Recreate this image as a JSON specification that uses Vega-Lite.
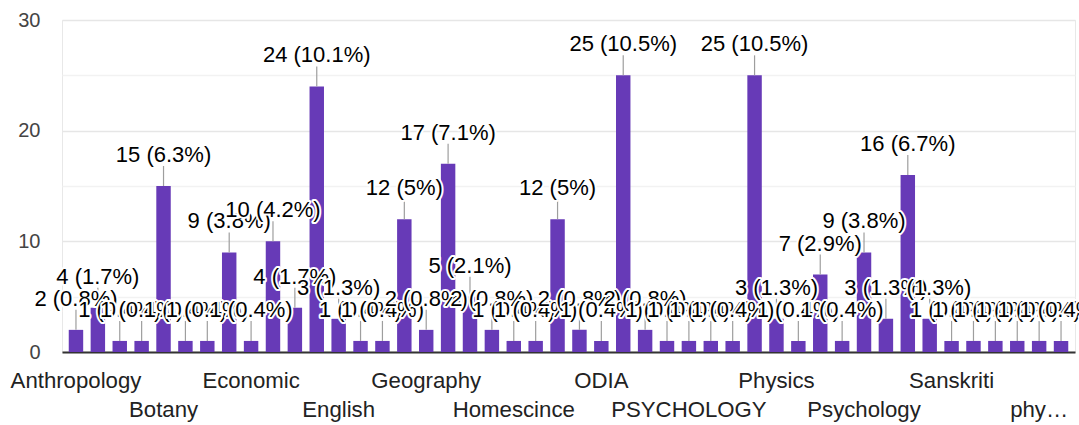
{
"$schema": "https://vega.github.io/schema/vega-lite/v6.json",
"width": 1013, "height": 332,
"autosize": {"type": "none"},
"padding": {"left": 62, "top": 20, "right": 4, "bottom": 73},
"background": "white",
"data": {"values": [
{"subject":"Anthropology","count":2,"label":"2 (0.8%)"},
{"subject":"Arts","count":4,"label":"4 (1.7%)"},
{"subject":"B.Com","count":1,"label":"1 (0.4%)"},
{"subject":"Biology","count":1,"label":"1 (0.4%)"},
{"subject":"Botany","count":15,"label":"15 (6.3%)"},
{"subject":"Chemistry","count":1,"label":"1 (0.4%)"},
{"subject":"Commerce","count":1,"label":"1 (0.4%)"},
{"subject":"Computer Science","count":9,"label":"9 (3.8%)"},
{"subject":"Economic","count":1,"label":"1 (0.4%)"},
{"subject":"Economics","count":10,"label":"10 (4.2%)"},
{"subject":"Economy","count":4,"label":"4 (1.7%)"},
{"subject":"Education","count":24,"label":"24 (10.1%)"},
{"subject":"English","count":3,"label":"3 (1.3%)"},
{"subject":"English Literature","count":1,"label":"1 (0.4%)"},
{"subject":"Environmental Science","count":1,"label":"1 (0.4%)"},
{"subject":"GEOGRAPHY","count":12,"label":"12 (5%)"},
{"subject":"Geography","count":2,"label":"2 (0.8%)"},
{"subject":"History","count":17,"label":"17 (7.1%)"},
{"subject":"Home Science","count":5,"label":"5 (2.1%)"},
{"subject":"Home science","count":2,"label":"2 (0.8%)"},
{"subject":"Homescince","count":1,"label":"1 (0.4%)"},
{"subject":"Math","count":1,"label":"1 (0.4%)"},
{"subject":"Mathematics","count":12,"label":"12 (5%)"},
{"subject":"Music","count":2,"label":"2 (0.8%)"},
{"subject":"ODIA","count":1,"label":"1 (0.4%)"},
{"subject":"Odia","count":25,"label":"25 (10.5%)"},
{"subject":"Odia Literature","count":2,"label":"2 (0.8%)"},
{"subject":"Oriya","count":1,"label":"1 (0.4%)"},
{"subject":"PSYCHOLOGY","count":1,"label":"1 (0.4%)"},
{"subject":"Philosophy","count":1,"label":"1 (0.4%)"},
{"subject":"Physical Education","count":1,"label":"1 (0.4%)"},
{"subject":"Physical Science","count":25,"label":"25 (10.5%)"},
{"subject":"Physics","count":3,"label":"3 (1.3%)"},
{"subject":"Political Science","count":1,"label":"1 (0.4%)"},
{"subject":"Political science","count":7,"label":"7 (2.9%)"},
{"subject":"Psychlogy","count":1,"label":"1 (0.4%)"},
{"subject":"Psychology","count":9,"label":"9 (3.8%)"},
{"subject":"SANSKRIT","count":3,"label":"3 (1.3%)"},
{"subject":"Sanskrit","count":16,"label":"16 (6.7%)"},
{"subject":"Sanskrit Literature","count":3,"label":"3 (1.3%)"},
{"subject":"Sanskriti","count":1,"label":"1 (0.4%)"},
{"subject":"Sociology","count":1,"label":"1 (0.4%)"},
{"subject":"Statistics","count":1,"label":"1 (0.4%)"},
{"subject":"Zoology","count":1,"label":"1 (0.4%)"},
{"subject":"physical science","count":1,"label":"1 (0.4%)"},
{"subject":"zoology","count":1,"label":"1 (0.4%)"}
]},
"encoding": {
  "x": {"field": "subject", "type": "nominal", "sort": null,
    "scale": {"type": "band", "paddingInner": 0.34, "paddingOuter": 0.308},
    "axis": {"title": null, "ticks": false, "grid": false, "domainColor": "#333333", "domainWidth": 2,
      "labelAngle": 0, "labelFont": "Liberation Sans", "labelFontSize": 22.2, "labelColor": "#222222",
      "labelPadding": 17, "labelLineHeight": 29.5, "labelOverlap": false, "labelBaseline": "top", "labelLimit": 300,
      "labelExpr": "indexof(['Anthropology','Economic','Geography','ODIA','Physics','Sanskriti'], datum.value) >= 0 ? datum.value : (indexof(['Botany','English','Homescince','PSYCHOLOGY','Psychology'], datum.value) >= 0 ? ['', datum.value] : (datum.value == 'physical science' ? ['', 'phy…'] : ''))"}},
  "y": {"field": "count", "type": "quantitative",
    "scale": {"domain": [0, 30], "nice": false},
    "axis": {"title": null, "values": [0, 5, 10, 15, 20, 25, 30], "ticks": false, "domain": false,
      "labelExpr": "datum.value % 10 == 0 ? datum.label : ''",
      "labelPadding": 22, "labelFont": "Liberation Sans", "labelFontSize": 20, "labelColor": "#444444",
      "gridColor": {"condition": {"test": "datum.value % 10 == 0", "value": "#e6e6e6"}, "value": "#f2f2f2"},
      "gridWidth": 1.5}}
},
"layer": [
  {"mark": {"type": "bar", "color": "#673ab7"}},
  {"mark": {"type": "rule", "color": "#9e9e9e", "strokeWidth": 1.2, "y2Offset": -20}, "encoding": {"y2": {"field": "count"}}},
  {"transform":[{"filter":{"field":"subject","equal":"Anthropology"}}],"encoding":{"text":{"field":"label"}},"layer":[{"mark":{"type":"text","style":"halo"}},{"mark":{"type":"text","style":"lbl"}}]},
  {"transform":[{"filter":{"field":"subject","equal":"Arts"}}],"encoding":{"text":{"field":"label"}},"layer":[{"mark":{"type":"text","style":"halo"}},{"mark":{"type":"text","style":"lbl"}}]},
  {"transform":[{"filter":{"field":"subject","equal":"B.Com"}}],"encoding":{"text":{"field":"label"}},"layer":[{"mark":{"type":"text","style":"halo"}},{"mark":{"type":"text","style":"lbl"}}]},
  {"transform":[{"filter":{"field":"subject","equal":"Biology"}}],"encoding":{"text":{"field":"label"}},"layer":[{"mark":{"type":"text","style":"halo"}},{"mark":{"type":"text","style":"lbl"}}]},
  {"transform":[{"filter":{"field":"subject","equal":"Botany"}}],"encoding":{"text":{"field":"label"}},"layer":[{"mark":{"type":"text","style":"halo"}},{"mark":{"type":"text","style":"lbl"}}]},
  {"transform":[{"filter":{"field":"subject","equal":"Chemistry"}}],"encoding":{"text":{"field":"label"}},"layer":[{"mark":{"type":"text","style":"halo"}},{"mark":{"type":"text","style":"lbl"}}]},
  {"transform":[{"filter":{"field":"subject","equal":"Commerce"}}],"encoding":{"text":{"field":"label"}},"layer":[{"mark":{"type":"text","style":"halo"}},{"mark":{"type":"text","style":"lbl"}}]},
  {"transform":[{"filter":{"field":"subject","equal":"Computer Science"}}],"encoding":{"text":{"field":"label"}},"layer":[{"mark":{"type":"text","style":"halo"}},{"mark":{"type":"text","style":"lbl"}}]},
  {"transform":[{"filter":{"field":"subject","equal":"Economic"}}],"encoding":{"text":{"field":"label"}},"layer":[{"mark":{"type":"text","style":"halo"}},{"mark":{"type":"text","style":"lbl"}}]},
  {"transform":[{"filter":{"field":"subject","equal":"Economics"}}],"encoding":{"text":{"field":"label"}},"layer":[{"mark":{"type":"text","style":"halo"}},{"mark":{"type":"text","style":"lbl"}}]},
  {"transform":[{"filter":{"field":"subject","equal":"Economy"}}],"encoding":{"text":{"field":"label"}},"layer":[{"mark":{"type":"text","style":"halo"}},{"mark":{"type":"text","style":"lbl"}}]},
  {"transform":[{"filter":{"field":"subject","equal":"Education"}}],"encoding":{"text":{"field":"label"}},"layer":[{"mark":{"type":"text","style":"halo"}},{"mark":{"type":"text","style":"lbl"}}]},
  {"transform":[{"filter":{"field":"subject","equal":"English"}}],"encoding":{"text":{"field":"label"}},"layer":[{"mark":{"type":"text","style":"halo"}},{"mark":{"type":"text","style":"lbl"}}]},
  {"transform":[{"filter":{"field":"subject","equal":"English Literature"}}],"encoding":{"text":{"field":"label"}},"layer":[{"mark":{"type":"text","style":"halo"}},{"mark":{"type":"text","style":"lbl"}}]},
  {"transform":[{"filter":{"field":"subject","equal":"Environmental Science"}}],"encoding":{"text":{"field":"label"}},"layer":[{"mark":{"type":"text","style":"halo"}},{"mark":{"type":"text","style":"lbl"}}]},
  {"transform":[{"filter":{"field":"subject","equal":"GEOGRAPHY"}}],"encoding":{"text":{"field":"label"}},"layer":[{"mark":{"type":"text","style":"halo"}},{"mark":{"type":"text","style":"lbl"}}]},
  {"transform":[{"filter":{"field":"subject","equal":"Geography"}}],"encoding":{"text":{"field":"label"}},"layer":[{"mark":{"type":"text","style":"halo"}},{"mark":{"type":"text","style":"lbl"}}]},
  {"transform":[{"filter":{"field":"subject","equal":"History"}}],"encoding":{"text":{"field":"label"}},"layer":[{"mark":{"type":"text","style":"halo"}},{"mark":{"type":"text","style":"lbl"}}]},
  {"transform":[{"filter":{"field":"subject","equal":"Home Science"}}],"encoding":{"text":{"field":"label"}},"layer":[{"mark":{"type":"text","style":"halo"}},{"mark":{"type":"text","style":"lbl"}}]},
  {"transform":[{"filter":{"field":"subject","equal":"Home science"}}],"encoding":{"text":{"field":"label"}},"layer":[{"mark":{"type":"text","style":"halo"}},{"mark":{"type":"text","style":"lbl"}}]},
  {"transform":[{"filter":{"field":"subject","equal":"Homescince"}}],"encoding":{"text":{"field":"label"}},"layer":[{"mark":{"type":"text","style":"halo"}},{"mark":{"type":"text","style":"lbl"}}]},
  {"transform":[{"filter":{"field":"subject","equal":"Math"}}],"encoding":{"text":{"field":"label"}},"layer":[{"mark":{"type":"text","style":"halo"}},{"mark":{"type":"text","style":"lbl"}}]},
  {"transform":[{"filter":{"field":"subject","equal":"Mathematics"}}],"encoding":{"text":{"field":"label"}},"layer":[{"mark":{"type":"text","style":"halo"}},{"mark":{"type":"text","style":"lbl"}}]},
  {"transform":[{"filter":{"field":"subject","equal":"Music"}}],"encoding":{"text":{"field":"label"}},"layer":[{"mark":{"type":"text","style":"halo"}},{"mark":{"type":"text","style":"lbl"}}]},
  {"transform":[{"filter":{"field":"subject","equal":"ODIA"}}],"encoding":{"text":{"field":"label"}},"layer":[{"mark":{"type":"text","style":"halo"}},{"mark":{"type":"text","style":"lbl"}}]},
  {"transform":[{"filter":{"field":"subject","equal":"Odia"}}],"encoding":{"text":{"field":"label"}},"layer":[{"mark":{"type":"text","style":"halo"}},{"mark":{"type":"text","style":"lbl"}}]},
  {"transform":[{"filter":{"field":"subject","equal":"Odia Literature"}}],"encoding":{"text":{"field":"label"}},"layer":[{"mark":{"type":"text","style":"halo"}},{"mark":{"type":"text","style":"lbl"}}]},
  {"transform":[{"filter":{"field":"subject","equal":"Oriya"}}],"encoding":{"text":{"field":"label"}},"layer":[{"mark":{"type":"text","style":"halo"}},{"mark":{"type":"text","style":"lbl"}}]},
  {"transform":[{"filter":{"field":"subject","equal":"PSYCHOLOGY"}}],"encoding":{"text":{"field":"label"}},"layer":[{"mark":{"type":"text","style":"halo"}},{"mark":{"type":"text","style":"lbl"}}]},
  {"transform":[{"filter":{"field":"subject","equal":"Philosophy"}}],"encoding":{"text":{"field":"label"}},"layer":[{"mark":{"type":"text","style":"halo"}},{"mark":{"type":"text","style":"lbl"}}]},
  {"transform":[{"filter":{"field":"subject","equal":"Physical Education"}}],"encoding":{"text":{"field":"label"}},"layer":[{"mark":{"type":"text","style":"halo"}},{"mark":{"type":"text","style":"lbl"}}]},
  {"transform":[{"filter":{"field":"subject","equal":"Physical Science"}}],"encoding":{"text":{"field":"label"}},"layer":[{"mark":{"type":"text","style":"halo"}},{"mark":{"type":"text","style":"lbl"}}]},
  {"transform":[{"filter":{"field":"subject","equal":"Physics"}}],"encoding":{"text":{"field":"label"}},"layer":[{"mark":{"type":"text","style":"halo"}},{"mark":{"type":"text","style":"lbl"}}]},
  {"transform":[{"filter":{"field":"subject","equal":"Political Science"}}],"encoding":{"text":{"field":"label"}},"layer":[{"mark":{"type":"text","style":"halo"}},{"mark":{"type":"text","style":"lbl"}}]},
  {"transform":[{"filter":{"field":"subject","equal":"Political science"}}],"encoding":{"text":{"field":"label"}},"layer":[{"mark":{"type":"text","style":"halo"}},{"mark":{"type":"text","style":"lbl"}}]},
  {"transform":[{"filter":{"field":"subject","equal":"Psychlogy"}}],"encoding":{"text":{"field":"label"}},"layer":[{"mark":{"type":"text","style":"halo"}},{"mark":{"type":"text","style":"lbl"}}]},
  {"transform":[{"filter":{"field":"subject","equal":"Psychology"}}],"encoding":{"text":{"field":"label"}},"layer":[{"mark":{"type":"text","style":"halo"}},{"mark":{"type":"text","style":"lbl"}}]},
  {"transform":[{"filter":{"field":"subject","equal":"SANSKRIT"}}],"encoding":{"text":{"field":"label"}},"layer":[{"mark":{"type":"text","style":"halo"}},{"mark":{"type":"text","style":"lbl"}}]},
  {"transform":[{"filter":{"field":"subject","equal":"Sanskrit"}}],"encoding":{"text":{"field":"label"}},"layer":[{"mark":{"type":"text","style":"halo"}},{"mark":{"type":"text","style":"lbl"}}]},
  {"transform":[{"filter":{"field":"subject","equal":"Sanskrit Literature"}}],"encoding":{"text":{"field":"label"}},"layer":[{"mark":{"type":"text","style":"halo"}},{"mark":{"type":"text","style":"lbl"}}]},
  {"transform":[{"filter":{"field":"subject","equal":"Sanskriti"}}],"encoding":{"text":{"field":"label"}},"layer":[{"mark":{"type":"text","style":"halo"}},{"mark":{"type":"text","style":"lbl"}}]},
  {"transform":[{"filter":{"field":"subject","equal":"Sociology"}}],"encoding":{"text":{"field":"label"}},"layer":[{"mark":{"type":"text","style":"halo"}},{"mark":{"type":"text","style":"lbl"}}]},
  {"transform":[{"filter":{"field":"subject","equal":"Statistics"}}],"encoding":{"text":{"field":"label"}},"layer":[{"mark":{"type":"text","style":"halo"}},{"mark":{"type":"text","style":"lbl"}}]},
  {"transform":[{"filter":{"field":"subject","equal":"Zoology"}}],"encoding":{"text":{"field":"label"}},"layer":[{"mark":{"type":"text","style":"halo"}},{"mark":{"type":"text","style":"lbl"}}]},
  {"transform":[{"filter":{"field":"subject","equal":"physical science"}}],"encoding":{"text":{"field":"label"}},"layer":[{"mark":{"type":"text","style":"halo"}},{"mark":{"type":"text","style":"lbl"}}]},
  {"transform":[{"filter":{"field":"subject","equal":"zoology"}}],"encoding":{"text":{"field":"label"}},"layer":[{"mark":{"type":"text","style":"halo"}},{"mark":{"type":"text","style":"lbl"}}]}
],
"config": {
  "view": {"stroke": "#e8e8e8"},
  "style": {
    "halo": {"font": "Liberation Sans", "fontSize": 22, "fill": "white", "stroke": "white", "strokeWidth": 4, "strokeJoin": "round", "baseline": "alphabetic", "align": "center", "dy": -24},
    "lbl": {"font": "Liberation Sans", "fontSize": 22, "fill": "#222222", "baseline": "alphabetic", "align": "center", "dy": -24}
  }
}
}
